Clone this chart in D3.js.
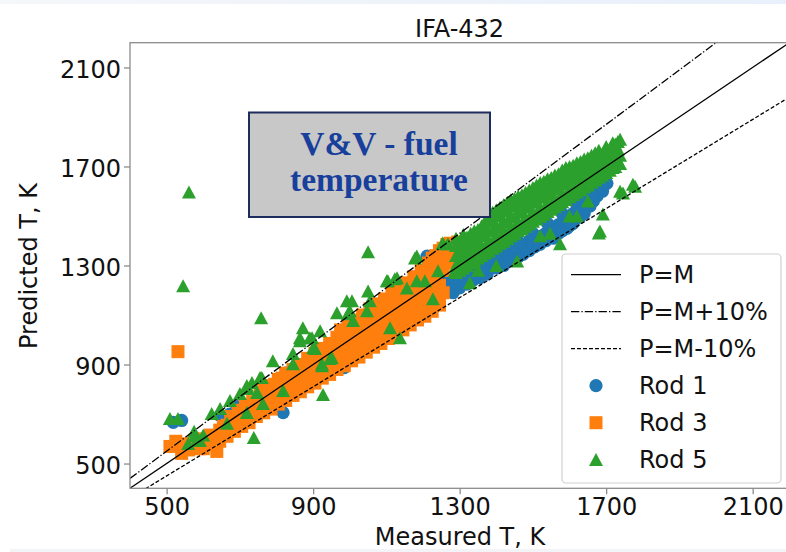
<!DOCTYPE html>
<html>
<head>
<meta charset="utf-8">
<script src="https://cdn.jsdelivr.net/npm/d3@7"></script>
<style>
body { margin: 0; background: #fff; }
svg { display: block; }
text { font-family: "DejaVu Sans", sans-serif; }
</style>
</head>
<body>
<div id="chart-area"></div>
<script>

let width = 786,
height = 552;

// tick labels
const xTicks = [500, 900, 1300, 1700, 2100];
const yTicks = [500, 900, 1300, 1700, 2100];

// reference lines P = k * M
const lineNames = ["P=M", "P=M+10%", "P=M-10%"];
const lineFactors = [1.0, 1.1, 0.9];

const seriesNames = ["Rod 1", "Rod 3", "Rod 5"];

// [measured, predicted] in K
const rod1 = [
	[518,666],[541,674],[646,694],[673,700],[692,730],[818,706],[828,866],[984,887],[973,936],
	[1036,996],[1211,1338],[760,740],[880,860],[1100,1040],[1160,1100],
	[1240,1180],[1240,1215],[1265,1200],[1265,1240],[1282,1238],[1282,1190],[1300,1210],[1300,1250],
	[1300,1275],[1320,1225],[1320,1265],[1336,1290],[1336,1240],[1355,1306],[1355,1250],[1355,1280],
	[1375,1265],[1375,1300],[1383,1326],[1400,1290],[1400,1330],[1400,1350],[1420,1300],[1420,1345],
	[1429,1346],[1445,1320],[1445,1358],[1460,1335],[1460,1380],[1473,1379],[1473,1345],[1490,1360],
	[1490,1400],[1505,1375],[1505,1410],[1519,1411],[1519,1385],[1535,1400],[1535,1430],[1555,1439],
	[1555,1410],[1570,1430],[1570,1465],[1593,1491],[1593,1450],[1610,1470],[1610,1510],[1628,1540],
	[1628,1495],[1640,1510],[1640,1560],[1648,1572],[1656,1612],[1656,1540],[1675,1580],[1702,1632],
	[1290,1225],[1310,1240],[1330,1270],[1345,1260],[1365,1285],[1390,1310],[1410,1320],[1435,1335],
	[1450,1370],[1480,1370],[1500,1390],[1525,1420],[1545,1420],[1560,1455],[1580,1440],[1585,1475],
	[1600,1460],[1620,1525],[1635,1525],[1665,1560],[1690,1600],
	[1300,1245],[1340,1280],[1380,1320],[1420,1360],[1460,1395],[1500,1430],[1540,1470],[1580,1510],
	[1620,1545],[1660,1590],[1690,1615]
];

const rod3 = [
	[531,952],[637,549],[509,569],[541,541],[572,565],[525,590],[555,580],[590,560],[560,555],
	[600,560],[600,600],[620,575],[620,615],[645,590],[645,635],[665,610],[665,655],[685,630],[685,675],
	[705,650],[705,700],[725,665],[725,715],[745,690],[745,740],[765,705],[765,760],[765,795],
	[785,720],[785,780],[785,815],[805,740],[805,800],[805,840],[825,755],[825,815],[825,865],
	[845,775],[845,835],[845,880],[865,790],[865,855],[865,900],[885,810],[885,875],[885,925],
	[905,825],[905,890],[905,945],[925,845],[925,910],[925,965],[945,860],[945,930],[945,985],
	[965,880],[965,950],[965,1010],[985,895],[985,970],[985,1030],[1005,915],[1005,990],[1005,1055],
	[1025,930],[1025,1005],[1025,1075],[1045,950],[1045,1030],[1045,1095],[1065,970],[1065,1045],
	[1065,1115],[1085,985],[1085,1065],[1085,1135],[1105,1005],[1105,1085],[1105,1155],[1125,1020],
	[1125,1105],[1125,1175],[1145,1040],[1145,1125],[1145,1195],[1165,1060],[1165,1140],[1165,1215],
	[1185,1080],[1185,1160],[1185,1240],[1205,1095],[1205,1180],[1205,1260],[1225,1115],[1225,1200],
	[1225,1285],[1225,1330],[1245,1140],[1245,1220],[1245,1300],[1245,1360],[1265,1310],[1265,1350],
	[1265,1385],[1285,1320],[1285,1365],[1305,1340],[1305,1380],[1320,1365],[1320,1395],
	[610,585],[635,610],[655,625],[655,650],[675,645],[675,690],[695,665],[695,715],[715,680],[715,735],
	[735,700],[735,750],[755,720],[755,780],[775,740],[775,795],[795,760],[795,820],[815,775],[815,845],
	[835,790],[835,860],[855,805],[855,880],[875,830],[875,900],[895,845],[895,920],[915,870],[915,935],
	[935,880],[935,960],[955,900],[955,985],[975,920],[975,1000],[975,1040],[995,940],[995,1015],
	[995,1060],[1015,955],[1015,1035],[1015,1080],[1035,975],[1035,1055],[1035,1100],[1055,990],
	[1055,1070],[1055,1125],[1075,1010],[1075,1090],[1075,1145],[1095,1025],[1095,1110],[1095,1165],
	[1115,1045],[1115,1130],[1115,1190],[1135,1060],[1135,1150],[1135,1210],[1155,1080],[1155,1170],
	[1155,1230],[1175,1100],[1175,1195],[1175,1255],[1195,1120],[1195,1215],[1195,1280],[1215,1140],
	[1215,1240],[1215,1310],[1235,1165],[1235,1260],[1235,1340],[1255,1190],[1255,1280],[1255,1370],
	[1275,1340],[1275,1390],[1295,1355],[1295,1395],[1310,1320],[1310,1375]
];

const rod5 = [
	// scattered points and outliers
	[561,1596],[545,1218],[758,1089],[1050,1355],[927,779],[738,605],[509,682],[531,682],[577,613],
	[591,593],[559,581],[585,600],[600,615],[575,630],[623,702],[646,722],[673,754],[700,783],
	[722,803],[733,827],[760,847],[747,787],[665,662],[719,706],[763,742],[790,915],[818,795],
	[845,944],[845,903],[864,1008],[897,1008],[905,964],[924,895],[872,1048],[891,1008],[919,1036],
	[965,1109],[992,1157],[1000,1117],[1050,1197],[1055,1157],[1047,1117],[1009,1077],[1104,1238],
	[1129,1250],[1110,1048],[1137,1008],[1156,1209],[1178,1330],[1183,1238],[1205,1238],[1227,1165],
	[1241,1278],[1254,1387],[1268,1387],[1287,1278],[1328,1407],[1328,1230],[1301,1318],[951,928],
	[924,903],[900,968],[864,996],[719,815],[755,847],[946,924],[1006,1157],[995,1105],[1101,1238],
	[1123,1246],[1183,1338],[1254,1391],[1336,1411],[1683,1439],[1738,1600],[1773,1628],[1691,1508],
	[1574,1387],[1457,1318],[1680,1431],[1746,1592],[1779,1620],[1650,1560],[1600,1500],[1520,1420],
	[1400,1300],[1350,1280],[1424,1414],[1451,1443],[1547,1430],[1620,1500],
	// dense cloud 1290-1740 K
	[1290,1271],[1290,1300],[1290,1340],[1290,1380],[1290,1410],
	[1310,1290],[1310,1320],[1310,1360],[1310,1400],[1310,1425],
	[1330,1310],[1330,1345],[1330,1385],[1330,1430],
	[1350,1330],[1350,1360],[1350,1400],[1350,1445],
	[1370,1350],[1370,1375],[1370,1420],[1370,1460],[1370,1480],
	[1390,1369],[1390,1395],[1390,1440],[1390,1480],[1390,1515],
	[1410,1389],[1410,1410],[1410,1455],[1410,1500],[1410,1535],
	[1430,1409],[1430,1430],[1430,1475],[1430,1520],[1430,1555],
	[1450,1428],[1450,1450],[1450,1495],[1450,1540],[1450,1570],
	[1470,1448],[1470,1470],[1470,1515],[1470,1555],[1470,1585],
	[1490,1468],[1490,1490],[1490,1535],[1490,1575],[1490,1605],
	[1510,1487],[1510,1510],[1510,1555],[1510,1595],[1510,1625],
	[1530,1507],[1530,1530],[1530,1575],[1530,1610],[1530,1640],
	[1550,1527],[1550,1550],[1550,1590],[1550,1630],[1550,1655],
	[1570,1546],[1570,1565],[1570,1610],[1570,1650],[1570,1670],
	[1590,1566],[1590,1585],[1590,1630],[1590,1665],[1590,1695],
	[1610,1586],[1610,1605],[1610,1645],[1610,1685],[1610,1705],
	[1630,1606],[1630,1625],[1630,1665],[1630,1700],[1630,1720],
	[1650,1625],[1650,1645],[1650,1685],[1650,1715],[1650,1735],
	[1670,1645],[1670,1665],[1670,1705],[1670,1735],[1670,1755],
	[1690,1665],[1690,1685],[1690,1720],[1690,1750],
	[1710,1684],[1710,1700],[1710,1740],[1710,1770],
	[1725,1700],[1725,1720],[1725,1760],[1725,1790],
	[1738,1712],[1738,1745],[1738,1810],
	[1300,1280],[1300,1320],[1300,1360],[1300,1395],
	[1320,1300],[1320,1340],[1320,1380],[1320,1415],
	[1340,1320],[1340,1365],[1340,1405],[1340,1440],
	[1360,1340],[1360,1380],[1360,1425],[1360,1460],
	[1380,1358],[1380,1400],[1380,1440],[1380,1490],
	[1400,1378],[1400,1420],[1400,1460],[1400,1505],[1400,1525],
	[1420,1398],[1420,1440],[1420,1480],[1420,1525],[1420,1545],
	[1440,1420],[1440,1455],[1440,1500],[1440,1540],[1440,1565],
	[1460,1440],[1460,1475],[1460,1520],[1460,1560],[1460,1580],
	[1480,1458],[1480,1495],[1480,1540],[1480,1580],[1480,1595],
	[1500,1478],[1500,1515],[1500,1560],[1500,1600],[1500,1615],
	[1520,1498],[1520,1535],[1520,1580],[1520,1620],[1520,1635],
	[1540,1518],[1540,1550],[1540,1600],[1540,1635],[1540,1650],
	[1560,1537],[1560,1570],[1560,1615],[1560,1645],[1560,1665],
	[1580,1557],[1580,1590],[1580,1630],[1580,1660],[1580,1685],
	[1600,1577],[1600,1610],[1600,1650],[1600,1680],[1600,1700],
	[1620,1597],[1620,1630],[1620,1665],[1620,1695],[1620,1715],
	[1640,1617],[1640,1650],[1640,1685],[1640,1710],[1640,1730],
	[1660,1636],[1660,1665],[1660,1700],[1660,1725],[1660,1745],
	[1680,1656],[1680,1690],[1680,1720],[1680,1745],[1680,1765],
	[1700,1675],[1700,1705],[1700,1735],[1700,1760],[1700,1780],
	[1718,1695],[1718,1730],[1718,1765],[1718,1795],
	[1732,1720],[1732,1770],[1732,1800]
];

const colors = ["#1f77b4", "#ff7f0e", "#2ca02c"];
const dashes = [null, "8.3,2.1,1.3,2.1", "4,2"];

let svg = d3.select("#chart-area").append("svg")
	.attr("width", width)
	.attr("height", height);

// slide background bits
let grad = svg.append("defs").append("linearGradient").attr("id", "topband");
grad.append("stop").attr("offset", "0%").attr("stop-color", "#f5f7fa");
grad.append("stop").attr("offset", "100%").attr("stop-color", "#e8f0fb");
svg.append("rect").attr("x", 0).attr("y", 0).attr("width", width).attr("height", 4).attr("fill", "url(#topband)");
svg.append("rect").attr("x", 10).attr("y", 549).attr("width", width - 10).attr("height", 3).attr("fill", "#f2f4f7");

let plotL = 130, plotR = 789.3, plotT = 42.7, plotB = 488.3;
let fs = 24;

let x = d3.scaleLinear().domain([400, 2200]).range([plotL, plotR]);
let y = d3.scaleLinear().domain([400, 2200]).range([plotB, plotT]);

svg.append("clipPath").attr("id", "plotclip")
	.append("rect").attr("x", plotL).attr("y", plotT).attr("width", plotR - plotL).attr("height", plotB - plotT);

// markers
let markers = [
	g => g.append("circle").attr("r", 6.6),
	g => g.append("rect").attr("x", -6.5).attr("y", -6.5).attr("width", 13).attr("height", 13),
	g => g.append("path").attr("d", "M0,-6.6L7,6.4L-7,6.4Z")
];

[rod1, rod3, rod5].forEach((data, i) => {
	let pts = svg.append("g")
		.attr("clip-path", "url(#plotclip)")
		.attr("fill", colors[i])
		.selectAll("g")
		.data(data)
		.enter()
		.append("g")
		.attr("transform", d => "translate(" + x(d[0]) + "," + y(d[1]) + ")");
	pts.each(function() { markers[i](d3.select(this)); });
});

// P = k*M lines
let line = d3.line().x(d => x(d[0])).y(d => y(d[1]));
lineFactors.forEach((k, i) => {
	svg.append("path")
		.attr("clip-path", "url(#plotclip)")
		.attr("d", line([[400, 400 * k], [2200, 2200 * k]]))
		.attr("fill", "none")
		.attr("stroke", "#000")
		.attr("stroke-width", 1.3)
		.attr("stroke-dasharray", dashes[i]);
});

// spines
svg.append("rect")
	.attr("x", plotL).attr("y", plotT)
	.attr("width", plotR - plotL).attr("height", plotB - plotT)
	.attr("fill", "none").attr("stroke", "#8c8c8c").attr("stroke-width", 1.3);

// axes
let xAxis = svg.append("g")
	.attr("transform", "translate(0," + plotB + ")")
	.call(d3.axisBottom(x).tickValues(xTicks).tickSize(6).tickPadding(4).tickFormat(d3.format("d")));
let yAxis = svg.append("g")
	.attr("transform", "translate(" + plotL + ",0)")
	.call(d3.axisLeft(y).tickValues(yTicks).tickSize(6).tickPadding(3).tickFormat(d3.format("d")));
[xAxis, yAxis].forEach(g => {
	g.select(".domain").remove();
	g.selectAll(".tick line").attr("stroke", "#8c8c8c").attr("stroke-width", 1.3);
	g.selectAll(".tick text").attr("font-size", fs).attr("fill", "#111")
		.style("font-family", "'DejaVu Sans', sans-serif");
});
yAxis.selectAll(".tick text").attr("dy", "0.4em");

// titles
svg.append("text").attr("x", 459.6).attr("y", 36.5).attr("text-anchor", "middle")
	.attr("font-size", fs).attr("fill", "#111").text("IFA-432");
svg.append("text").attr("x", 460).attr("y", 545).attr("text-anchor", "middle")
	.attr("font-size", fs).attr("fill", "#111").text("Measured T, K");
svg.append("text").attr("transform", "translate(36.7,266) rotate(-90)").attr("text-anchor", "middle")
	.attr("font-size", fs).attr("fill", "#111").text("Predicted T, K");

// legend
let legend = svg.append("g");
legend.append("rect")
	.attr("x", 562).attr("y", 254).attr("width", 219).attr("height", 229).attr("rx", 4)
	.attr("fill", "#fff").attr("fill-opacity", 0.8)
	.attr("stroke", "#d0d0d0").attr("stroke-width", 1.2);
let rowBase = i => 283.3 + i * 37;
lineNames.forEach((name, i) => {
	legend.append("line")
		.attr("x1", 571).attr("x2", 621)
		.attr("y1", rowBase(i) - 8.6).attr("y2", rowBase(i) - 8.6)
		.attr("stroke", "#000").attr("stroke-width", 1.3)
		.attr("stroke-dasharray", dashes[i]);
	legend.append("text").attr("x", 639).attr("y", rowBase(i))
		.attr("font-size", fs).attr("fill", "#111").text(name);
});
seriesNames.forEach((name, j) => {
	let i = j + 3;
	let g = legend.append("g").attr("fill", colors[j])
		.attr("transform", "translate(596," + (rowBase(i) - 8.6) + ")");
	markers[j](g);
	legend.append("text").attr("x", 639).attr("y", rowBase(i))
		.attr("font-size", fs).attr("fill", "#111").text(name);
});

// V&V annotation box
svg.append("rect")
	.attr("x", 249).attr("y", 112.5).attr("width", 241).attr("height", 104.5)
	.attr("fill", "#c8c8c8").attr("stroke", "#1c2d5e").attr("stroke-width", 2);
["V&V - fuel", "temperature"].forEach((t, i) => {
	svg.append("text")
		.attr("x", 379).attr("y", 155 + i * 36)
		.attr("text-anchor", "middle")
		.style("font-family", "'Liberation Serif', 'DejaVu Serif', serif")
		.attr("font-weight", "bold")
		.attr("font-size", 33.5)
		.attr("fill", "#173f9b")
		.text(t);
});

</script>
</body>
</html>
